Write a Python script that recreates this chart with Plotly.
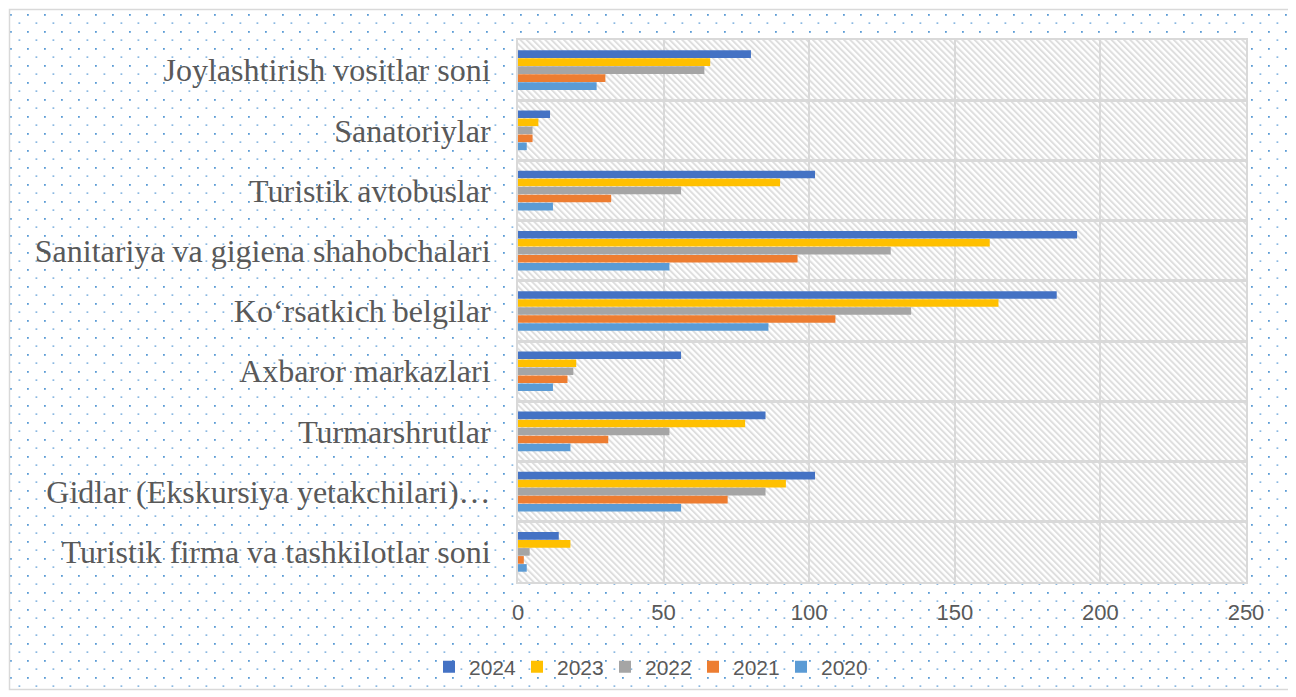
import base64
import plotly.graph_objects as go

categories = [
    "Joylashtirish vositlar soni",
    "Sanatoriylar",
    "Turistik avtobuslar",
    "Sanitariya va gigiena shahobchalari",
    "Ko\u2018rsatkich belgilar",
    "Axbaror markazlari",
    "Turmarshrutlar",
    "Gidlar (Ekskursiya yetakchilari)\u2026",
    "Turistik firma va tashkilotlar soni",
]
years = ["2024", "2023", "2022", "2021", "2020"]
v2024 = [80, 11, 102, 192, 185, 56, 85, 102, 14]
v2023 = [66, 7, 90, 162, 165, 20, 78, 92, 18]
v2022 = [64, 5, 56, 128, 135, 19, 52, 85, 4]
v2021 = [30, 5, 32, 96, 109, 17, 31, 72, 2]
v2020 = [27, 3, 12, 52, 86, 12, 18, 56, 3]
series = [v2024, v2023, v2022, v2021, v2020]
colors = ["#4472C4", "#FFC000", "#A5A5A5", "#ED7D31", "#5B9BD5"]
x_ticks = [0, 50, 100, 150, 200, 250]

# page body has an 8px margin, so figure coordinates = screen - 8
W, H = 1288, 689
ML, MR, MT, MB = 510, 50, 32, 115
PW, PH = W - ML - MR, H - MT - MB

svg = f'''<svg xmlns="http://www.w3.org/2000/svg" width="{W}" height="{H}" viewBox="0 0 {W} {H}">
<defs>
<pattern id="dots" width="17" height="17" patternUnits="userSpaceOnUse" x="0" y="0">
<rect x="2" y="6" width="1.8" height="1.8" fill="#5B9BD5"/>
<rect x="10.5" y="14.5" width="1.8" height="1.2" fill="#5B9BD5"/>
</pattern>
<pattern id="hatch" width="4.4" height="4.4" patternUnits="userSpaceOnUse" patternTransform="rotate(-45)">
<line x1="1" y1="0" x2="1" y2="4.4" stroke="#dedede" stroke-width="2"/>
</pattern>
</defs>
<rect x="0" y="0" width="{W}" height="{H}" fill="#ffffff"/>
<rect x="1" y="1" width="1284" height="681" fill="url(#dots)"/>
<rect x="1.5" y="1.5" width="1283" height="680" fill="none" stroke="#d9d9d9" stroke-width="1.5"/>
<rect x="{ML}" y="{MT}" width="{PW}" height="{PH}" fill="#ffffff"/>
<rect x="{ML}" y="{MT}" width="{PW}" height="{PH}" fill="url(#hatch)"/>
</svg>'''
src = "data:image/svg+xml;base64," + base64.b64encode(svg.encode()).decode()

fig = go.Figure()
for name, vals, col in zip(years, series, colors):
    fig.add_trace(go.Bar(
        y=categories, x=vals, name=name, orientation="h",
        marker=dict(color=col, line=dict(width=0)),
    ))

fig.update_layout(
    width=W, height=H,
    margin=dict(l=ML, r=MR, t=MT, b=MB, pad=0),
    paper_bgcolor="rgba(0,0,0,0)",
    plot_bgcolor="rgba(0,0,0,0)",
    barmode="group",
    bargap=0.335,
    bargroupgap=0.05,
    images=[dict(
        source=src, xref="paper", yref="paper",
        x=-ML / PW, y=1 + MT / PH, sizex=W / PW, sizey=H / PH,
        xanchor="left", yanchor="top", sizing="stretch", layer="below",
    )],
    legend=dict(
        orientation="h", xref="container", yref="container",
        x=641 / W, xanchor="center", y=30 / H, yanchor="middle",
        font=dict(family="Liberation Sans, sans-serif", size=21, color="#595959"),
        bgcolor="rgba(0,0,0,0)", entrywidth=43, entrywidthmode="pixels",
        itemclick=False,
    ),
    showlegend=True,
)
fig.update_xaxes(
    range=[0, 250], tickvals=x_ticks, ticktext=[str(t) for t in x_ticks],
    showgrid=True, gridcolor="#d9d9d9", gridwidth=2,
    zeroline=False, showline=True, linecolor="#d9d9d9", linewidth=2, mirror=True,
    tickfont=dict(family="Liberation Sans, sans-serif", size=22, color="#595959"),
    ticks="", ticklabelstandoff=10,
)
fig.update_yaxes(
    autorange="reversed", type="category",
    tickson="boundaries", showgrid=True, gridcolor="#d9d9d9", gridwidth=2.5,
    showline=True, linecolor="#d9d9d9", linewidth=2, mirror=True,
    ticks="", ticklabelstandoff=19,
    tickfont=dict(family="Liberation Serif, Times New Roman, serif", size=32, color="#595959"),
)

fig.write_html("out.html")
